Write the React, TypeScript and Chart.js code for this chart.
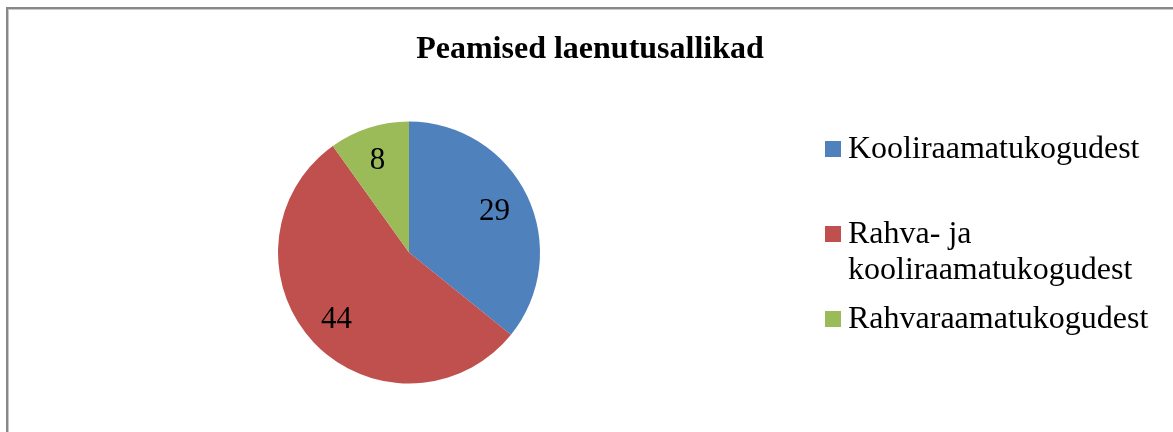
import React, { useEffect, useRef } from "react";
import { Chart, registerables } from "chart.js";

Chart.register(...registerables);

const titleText = "Peamised laenutusallikad";
const categories = ["Kooliraamatukogudest", "Rahva- ja kooliraamatukogudest", "Rahvaraamatukogudest"];
const legendLines = [["Kooliraamatukogudest"], ["Rahva- ja", "kooliraamatukogudest"], ["Rahvaraamatukogudest"]];
const values = [29, 44, 8];
const colors = ["#4F81BD", "#C0504D", "#9BBB59"];

const SERIF = "'Liberation Serif', 'Times New Roman', serif";

const framePlugin = {
  id: "frame",
  beforeDraw(chart: any) {
    const ctx = chart.ctx;
    ctx.save();
    ctx.fillStyle = "#ffffff";
    ctx.fillRect(0, 0, chart.width, chart.height);
    ctx.fillStyle = "#888888";
    ctx.fillRect(6, 7, 2, chart.height);
    ctx.fillRect(6, 7, chart.width, 2);
    ctx.fillStyle = "#c8c8c8";
    ctx.fillRect(8, 9, 1, chart.height);
    ctx.fillRect(8, 9, chart.width, 1);
    ctx.restore();
  },
};

const titlePlugin = {
  id: "customTitle",
  afterDraw(chart: any) {
    const ctx = chart.ctx;
    ctx.save();
    ctx.font = `bold 32px ${SERIF}`;
    ctx.fillStyle = "#000";
    ctx.textAlign = "center";
    ctx.textBaseline = "alphabetic";
    ctx.fillText(titleText, 590, 58);
    ctx.restore();
  },
};

const sliceLabelPlugin = {
  id: "sliceLabels",
  afterDatasetsDraw(chart: any) {
    const ctx = chart.ctx;
    const meta = chart.getDatasetMeta(0);
    ctx.save();
    ctx.font = `31px ${SERIF}`;
    ctx.fillStyle = "#000";
    ctx.textAlign = "center";
    ctx.textBaseline = "middle";
    meta.data.forEach((arc: any, i: number) => {
      const p = arc.getProps(["x", "y", "startAngle", "endAngle", "outerRadius"], true);
      const mid = (p.startAngle + p.endAngle) / 2;
      const r = p.outerRadius * 0.74;
      ctx.fillText(String(chart.data.datasets[0].data[i]), p.x + Math.cos(mid) * r - 2, p.y + Math.sin(mid) * r + 1);
    });
    ctx.restore();
  },
};

const legendPlugin = {
  id: "customLegend",
  afterDraw(chart: any) {
    const ctx = chart.ctx;
    const boxX = 825;
    const textX = 848;
    const box = 16;
    const firstBaselines = [158, 243, 328];
    const lineHeight = 36;
    ctx.save();
    ctx.font = `32px ${SERIF}`;
    ctx.textAlign = "left";
    ctx.textBaseline = "alphabetic";
    legendLines.forEach((lines, i) => {
      const base = firstBaselines[i];
      ctx.fillStyle = colors[i];
      ctx.fillRect(boxX, base - 17, box, box);
      ctx.fillStyle = "#000";
      lines.forEach((ln, j) => ctx.fillText(ln, textX, base + j * lineHeight));
    });
    ctx.restore();
  },
};

export default function App() {
  const ref = useRef<HTMLCanvasElement>(null);
  useEffect(() => {
    if (!ref.current) return;
    const chart = new Chart(ref.current, {
      type: "pie",
      data: {
        labels: categories,
        datasets: [
          {
            data: values,
            backgroundColor: colors,
            borderWidth: 0,
          },
        ],
      },
      options: {
        responsive: false,
        animation: false,
        layout: { padding: { top: 121.5, bottom: 48.5, left: 278, right: 633 } },
        plugins: {
          legend: { display: false },
          title: { display: false },
          tooltip: { enabled: false },
        },
      },
      plugins: [framePlugin, titlePlugin, sliceLabelPlugin, legendPlugin],
    });
    return () => chart.destroy();
  }, []);
  return (
    <div style={{ position: "absolute", left: 0, top: 0, width: 1173, height: 432 }}>
      <canvas ref={ref} width={1173} height={432} style={{ display: "block" }} />
    </div>
  );
}
